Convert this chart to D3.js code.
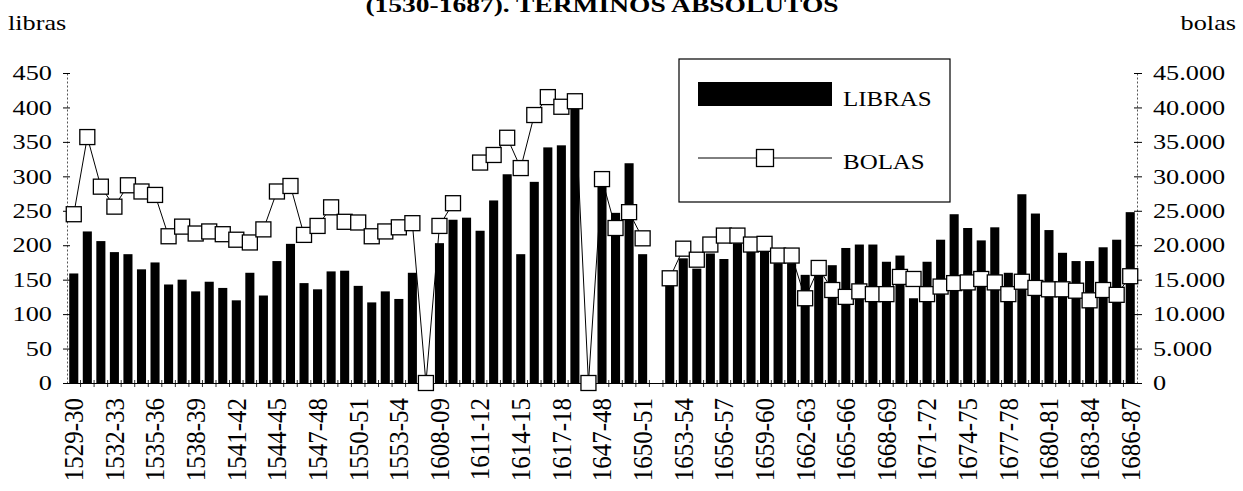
<!DOCTYPE html>
<html>
<head>
<meta charset="utf-8">
<script src="https://cdn.jsdelivr.net/npm/d3@7"></script>
<style>
  body { margin: 0; background: #fff; }
  svg { display: block; }
  text { font-family: "Liberation Serif", "Times New Roman", serif; fill: #000; }
</style>
</head>
<body>
<svg id="chart" width="1243" height="491"></svg>
<script>
// Fiscal years (only every third one is labelled on the axis)
const categories = [
  "1529-30","1530-31","1531-32","1532-33","1533-34","1534-35","1535-36","1536-37","1537-38",
  "1538-39","1539-40","1540-41","1541-42","1542-43","1543-44","1544-45","1545-46","1546-47",
  "1547-48","1548-49","1549-50","1550-51","1551-52","1552-53","1553-54","1554-55","1555-56",
  "1608-09","1609-10","1610-11","1611-12","1612-13","1613-14","1614-15","1615-16","1616-17",
  "1617-18","1618-19","1619-20","1647-48","1648-49","1649-50","1650-51","1651-52","1652-53",
  "1653-54","1654-55","1655-56","1656-57","1657-58","1658-59","1659-60","1660-61","1661-62",
  "1662-63","1663-64","1664-65","1665-66","1666-67","1667-68","1668-69","1669-70","1670-71",
  "1671-72","1672-73","1673-74","1674-75","1675-76","1676-77","1677-78","1678-79","1679-80",
  "1680-81","1681-82","1682-83","1683-84","1684-85","1685-86","1686-87"
];

// LIBRAS (left axis)
const libras = [
  159, 220, 206, 190, 187, 165, 175, 143, 150, 133, 147, 138, 120, 160, 127, 177, 202, 145,
  136, 162, 163, 141, 117, 133, 122, 160, 0,
  203, 237, 240, 221, 265, 303, 187, 292, 342, 345, 400, 0,
  286, 247, 319, 187, null,
  142, 181, 166, 188, 180, 203, 191, 191, 174, 174, 157, 171,
  171, 196, 201, 201, 176, 185, 123, 176, 208, 245, 225, 207, 226, 160, 274, 246, 222, 189,
  177, 177, 197, 208, 248
];

// BOLAS (right axis)
const bolas = [
  24500, 35700, 28500, 25600, 28700, 27800, 27300, 21300, 22700, 21700, 22000, 21600, 20800,
  20400, 22300, 27800, 28600, 21500, 22800, 25500, 23400, 23300, 21300, 22000, 22600, 23200, 0,
  22800, 26100, null, 32000, 33100, 35600, 31200, 38900, 41500, 40100, 40900, 0,
  29600, 22500, 24800, 21000, null,
  15200, 19500, 17900, 20100, 21400, 21400, 20100, 20200, 18500, 18500, 12300, 16700,
  13500, 12500, 13300, 12900, 12900, 15400, 15100, 12900, 14000, 14500, 14600, 15100, 14600,
  12900, 14700, 13800, 13600, 13600, 13400, 12000, 13500, 12800, 15500
];

const leftTicks = [0, 50, 100, 150, 200, 250, 300, 350, 400, 450];
const rightTicks = [0, 5000, 10000, 15000, 20000, 25000, 30000, 35000, 40000, 45000];
const legendItems = ["LIBRAS", "BOLAS"];

const SX = 1.25;          // horizontal stretch applied to the lettering
const SX_ROT = 1.1;       // stretch for the rotated year labels
const svg = d3.select("#chart");
svg.append("rect").attr("width", 1243).attr("height", 491).attr("fill", "#fff");

const x = d3.scaleBand().domain(categories).range([67, 1137]).paddingInner(0.33).paddingOuter(0.165);
const yL = d3.scaleLinear().domain([0, 450]).range([383, 73]);
const yR = d3.scaleLinear().domain([0, 45000]).range([383, 73]);
const fmt = d3.formatLocale({ decimal: ",", thousands: ".", grouping: [3], currency: ["", ""] }).format(",d");

function stretchText(sel) {
  sel.each(function () {
    const t = d3.select(this);
    const tx = +t.attr("x") || 0;
    t.attr("x", 0).attr("transform", `translate(${tx},0) scale(${SX},1)`);
  });
}

// bars
svg.append("g").selectAll("rect")
  .data(categories.map((c, i) => ({ c, v: libras[i] })).filter(d => d.v != null && d.v > 0))
  .join("rect")
  .attr("x", d => x(d.c))
  .attr("width", x.bandwidth())
  .attr("y", d => yL(d.v))
  .attr("height", d => yL(0) - yL(d.v))
  .attr("fill", "#000");

// left axis
const gL = svg.append("g").attr("transform", "translate(67,0)")
  .call(d3.axisLeft(yL).tickValues(leftTicks).tickSizeInner(4).tickSizeOuter(0).tickPadding(11));
gL.select(".domain").attr("stroke", "#555").attr("stroke-dasharray", "2,2");
gL.selectAll(".tick line").attr("x1", 3).attr("x2", -4).attr("stroke", "#000");
gL.selectAll(".tick text").attr("font-size", 21).style("font-family", "Liberation Serif").call(stretchText);

// right axis
const gR = svg.append("g").attr("transform", "translate(1137,0)")
  .call(d3.axisRight(yR).tickValues(rightTicks).tickFormat(fmt).tickSizeInner(5).tickSizeOuter(0).tickPadding(11));
gR.select(".domain").attr("stroke", "#555").attr("stroke-dasharray", "2,2");
gR.selectAll(".tick line").attr("x1", -3).attr("x2", 5).attr("stroke", "#000");
gR.selectAll(".tick text").attr("font-size", 21).style("font-family", "Liberation Serif").call(stretchText);

// category axis
const gX = svg.append("g").attr("transform", "translate(0,383)")
  .call(d3.axisBottom(x).tickValues(categories.filter((c, i) => i % 3 === 0)).tickSize(0).tickPadding(0));
gX.select(".domain").attr("stroke", "#000");
gX.selectAll(".tick text")
  .attr("font-size", 25).style("font-family", "Liberation Serif")
  .attr("text-anchor", "end").attr("x", 0).attr("y", 0).attr("dy", "0.34em")
  .attr("transform", `translate(0,15) scale(${SX_ROT},1) rotate(-90)`);
// small tick marks between categories
svg.append("g").selectAll("line")
  .data(categories.slice(1))
  .join("line")
  .attr("x1", d => x(d) - x.step() * x.paddingInner() / 2)
  .attr("x2", d => x(d) - x.step() * x.paddingInner() / 2)
  .attr("y1", 380).attr("y2", 387)
  .attr("stroke", "#000").attr("stroke-width", 0.8);

// bolas line (breaks where there is no value)
const pts = categories.map((c, i) => ({ c, v: bolas[i] }));
const line = d3.line()
  .defined(d => d.v != null)
  .x(d => x(d.c) + x.bandwidth() / 2)
  .y(d => yR(d.v));
svg.append("path").datum(pts).attr("d", line)
  .attr("fill", "none").attr("stroke", "#000").attr("stroke-width", 1);

const MS = 15;
svg.append("g").selectAll("rect")
  .data(pts.filter(d => d.v != null))
  .join("rect")
  .attr("x", d => x(d.c) + x.bandwidth() / 2 - MS / 2)
  .attr("y", d => yR(d.v) - MS / 2)
  .attr("width", MS).attr("height", MS)
  .attr("fill", "#fff").attr("stroke", "#000").attr("stroke-width", 1.3);

// axis titles
svg.append("text").text("libras").attr("font-size", 21)
  .attr("transform", `translate(8,30) scale(${SX},1)`);
svg.append("text").text("bolas").attr("font-size", 21).attr("text-anchor", "end")
  .attr("transform", `translate(1236,30) scale(${SX},1)`);

// heading (upper line falls outside the frame)
svg.append("text").text("(1530-1687). TERMINOS ABSOLUTOS")
  .attr("font-size", 22).attr("font-weight", "bold").attr("text-anchor", "middle")
  .attr("transform", `translate(602,12) scale(${SX},1)`);

// legend
const lg = svg.append("g");
lg.append("rect").attr("x", 679).attr("y", 59).attr("width", 271).attr("height", 143)
  .attr("fill", "#fff").attr("stroke", "#000").attr("stroke-width", 1.2);
lg.append("rect").attr("x", 698).attr("y", 82).attr("width", 134).attr("height", 24).attr("fill", "#000");
lg.append("line").attr("x1", 698).attr("x2", 832).attr("y1", 158).attr("y2", 158)
  .attr("stroke", "#000").attr("stroke-width", 1);
lg.append("rect").attr("x", 765 - 8.5).attr("y", 158 - 8.5).attr("width", 17).attr("height", 17)
  .attr("fill", "#fff").attr("stroke", "#000").attr("stroke-width", 1.3);
lg.selectAll("text.item").data(legendItems).join("text").attr("class", "item")
  .text(d => d).attr("font-size", 21)
  .attr("transform", (d, i) => `translate(843,${i === 0 ? 106 : 169}) scale(${SX * 0.95},1)`);
</script>
</body>
</html>
